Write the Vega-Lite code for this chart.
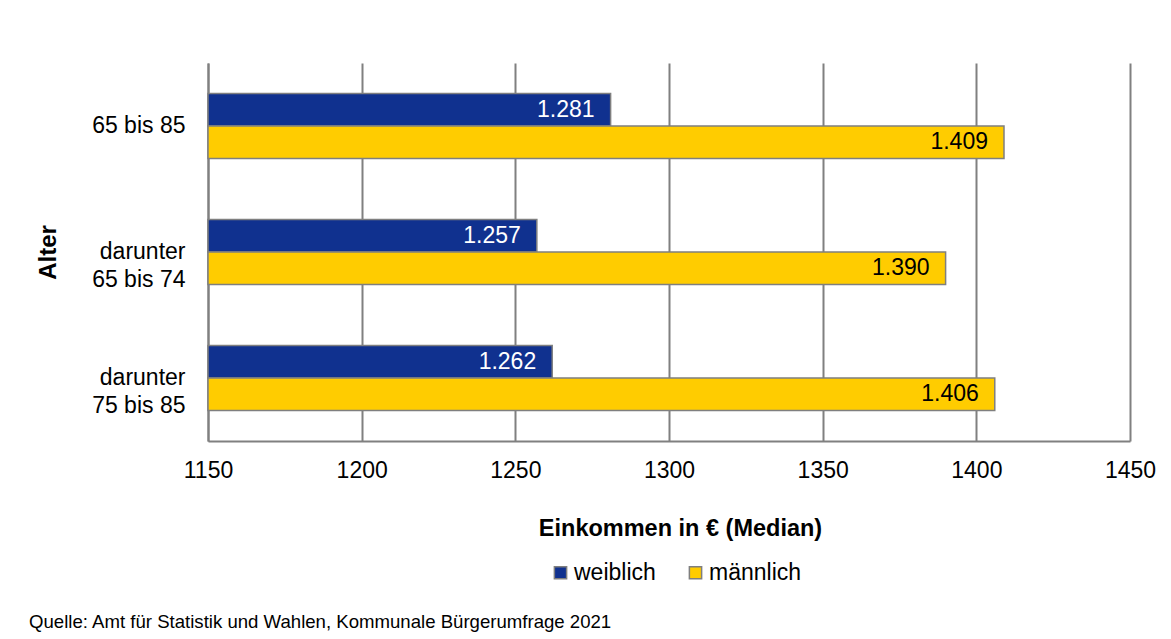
{
  "$schema": "https://vega.github.io/schema/vega-lite/v6.json",
  "width": 922,
  "height": 378,
  "autosize": {"type": "none"},
  "padding": {"left": 208, "top": 63, "right": 41, "bottom": 198},
  "background": "white",
  "config": {
    "locale": {"number": {"decimal": ",", "thousands": ".", "grouping": [3], "currency": ["", " €"]}},
    "font": "Liberation Sans",
    "view": {"stroke": null}
  },
  "title": {
    "text": "Quelle: Amt für Statistik und Wahlen, Kommunale Bürgerumfrage 2021",
    "orient": "bottom",
    "anchor": "start",
    "frame": "group",
    "fontSize": 18.6,
    "fontWeight": "normal",
    "font": "Liberation Sans",
    "color": "black",
    "dx": -179,
    "offset": 28
  },
  "data": {
    "values": [
      {"Alter": "65 bis 85", "Geschlecht": "weiblich", "Einkommen": 1281},
      {"Alter": "65 bis 85", "Geschlecht": "männlich", "Einkommen": 1409},
      {"Alter": "darunter 65 bis 74", "Geschlecht": "weiblich", "Einkommen": 1257},
      {"Alter": "darunter 65 bis 74", "Geschlecht": "männlich", "Einkommen": 1390},
      {"Alter": "darunter 75 bis 85", "Geschlecht": "weiblich", "Einkommen": 1262},
      {"Alter": "darunter 75 bis 85", "Geschlecht": "männlich", "Einkommen": 1406}
    ]
  },
  "encoding": {
    "y": {
      "field": "Alter",
      "type": "nominal",
      "sort": ["65 bis 85", "darunter 65 bis 74", "darunter 75 bis 85"],
      "scale": {"paddingInner": 0.484, "paddingOuter": 0.242},
      "axis": {
        "title": "Alter",
        "titleFontSize": 24,
        "titleFontWeight": "bold",
        "titleColor": "black",
        "titlePadding": 31,
        "labelFontSize": 23,
        "labelColor": "black",
        "labelPadding": 23,
        "labelLineHeight": 28,
        "labelExpr": "indexof(datum.label, 'darunter ') == 0 ? ['darunter', substring(datum.label, 9)] : datum.label",
        "ticks": false,
        "grid": false,
        "domainColor": "#808080",
        "domainWidth": 2
      }
    },
    "yOffset": {"field": "Geschlecht", "type": "nominal", "sort": ["weiblich", "männlich"], "scale": {"paddingInner": 0, "paddingOuter": 0}},
    "x": {
      "field": "Einkommen",
      "type": "quantitative",
      "scale": {"domain": [1150, 1450], "zero": false, "nice": false},
      "axis": {
        "title": "Einkommen in € (Median)",
        "titleFontSize": 23.5,
        "titleFontWeight": "bold",
        "titleColor": "black",
        "titlePadding": 34,
        "titleX": 472,
        "values": [1150, 1200, 1250, 1300, 1350, 1400, 1450],
        "format": "d",
        "labelFontSize": 23,
        "labelColor": "black",
        "labelPadding": 18,
        "labelFlush": false,
        "ticks": false,
        "domainColor": "#808080",
        "domainWidth": 2,
        "grid": true,
        "gridColor": "#808080",
        "gridWidth": 2
      }
    }
  },
  "layer": [
    {
      "mark": {"type": "bar", "stroke": "#7f7f7f", "strokeWidth": 1.5},
      "encoding": {
        "x2": {"datum": 1150},
        "color": {
          "field": "Geschlecht",
          "type": "nominal",
          "scale": {"domain": ["weiblich", "männlich"], "range": ["#10318f", "#ffcc00"]},
          "legend": {
            "orient": "none",
            "legendX": 341,
            "legendY": 498,
            "direction": "horizontal",
            "title": null,
            "symbolType": "square",
            "symbolSize": 150,
            "symbolStrokeColor": "#7f7f7f",
            "symbolStrokeWidth": 1.5,
            "labelFontSize": 23,
            "labelColor": "black",
            "labelOffset": 2,
            "columnPadding": 28,
            "padding": 0
          }
        }
      }
    },
    {
      "mark": {"type": "text", "align": "right", "baseline": "middle", "dx": -16, "fontSize": 23},
      "encoding": {
        "text": {"field": "Einkommen", "type": "quantitative", "format": ",d"},
        "color": {"condition": {"test": "datum.Geschlecht === 'weiblich'", "value": "white"}, "value": "black"}
      }
    }
  ]
}
